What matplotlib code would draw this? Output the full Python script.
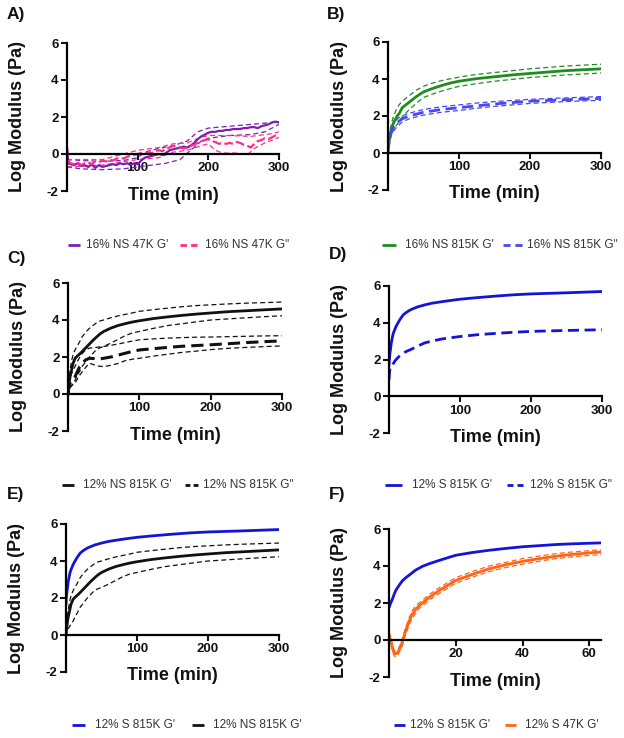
import matplotlib
matplotlib.use("Agg")
import matplotlib.pyplot as plt
from matplotlib.lines import Line2D

plt.rcParams['font.family'] = ['Liberation Sans', 'DejaVu Sans']
plt.rcParams['axes.unicode_minus'] = False

# ---------------- DATA ----------------
# Panel A : 16% NS 47K
A_t = [0, 2] + list(range(5, 301, 5))
A_Gp = [0.3, -0.5, -0.55, -0.6, -0.5, -0.65, -0.6, -0.7, -0.55, -0.75, -0.6, -0.7,
        -0.65, -0.6, -0.55, -0.6, -0.5, -0.55, -0.5, -0.6, -0.5, -0.55,
        -0.35, -0.2, -0.15, -0.1, -0.05, 0.0, -0.05, 0.05, 0.2, 0.25, 0.3, 0.35,
        0.4, 0.35, 0.45, 0.6, 0.8, 0.95, 1.05, 1.15, 1.2, 1.2, 1.25, 1.25, 1.3,
        1.3, 1.35, 1.35, 1.35, 1.4, 1.4, 1.45, 1.45, 1.4, 1.5, 1.55, 1.6, 1.7,
        1.75, 1.7]
A_Gpp = [0.35, -0.4, -0.5, -0.55, -0.45, -0.6, -0.5, -0.45, -0.55, -0.4, -0.45,
         -0.35, -0.4, -0.3, -0.35, -0.25, -0.2, -0.25, -0.15, -0.1, -0.05, 0.0,
         0.05, 0.0, 0.1, 0.05, 0.15, 0.2, 0.15, 0.3, 0.35, 0.45, 0.4, 0.35, 0.3,
         0.35, 0.45, 0.5, 0.6, 0.7, 0.75, 0.8, 0.7, 0.65, 0.55, 0.6, 0.55, 0.6,
         0.55, 0.65, 0.6, 0.5, 0.45, 0.35, 0.55, 0.7, 0.75, 0.85, 0.8, 0.9, 1.0,
         1.05]
A_Gp_hi_t = [0, 20, 50, 80, 100, 110, 130, 150, 170, 185, 200, 230, 260, 290, 300]
A_Gp_hi = [-0.3, -0.35, -0.4, -0.35, -0.2, 0.1, 0.3, 0.45, 0.7, 1.2, 1.4, 1.5, 1.6, 1.7, 1.75]
A_Gp_lo_t = [0, 20, 50, 80, 100, 120, 140, 160, 175, 190, 200, 230, 260, 280, 300]
A_Gp_lo = [-0.7, -0.8, -0.85, -0.8, -0.7, -0.6, -0.5, -0.3, 0.2, 0.7, 0.85, 1.0, 1.05, 1.2, 1.6]
A_Gpp_hi_t = [0, 50, 100, 130, 150, 170, 190, 200, 230, 260, 290, 300]
A_Gpp_hi = [-0.3, -0.3, 0.2, 0.35, 0.55, 0.6, 0.9, 1.0, 1.0, 0.95, 1.1, 1.2]
A_Gpp_lo_t = [0, 50, 100, 130, 150, 170, 190, 200, 210, 220, 240, 255, 265, 280, 300]
A_Gpp_lo = [-0.7, -0.6, -0.3, -0.2, 0.1, 0.2, 0.45, 0.55, 0.2, 0.05, 0.05, -0.05, 0.3, 0.6, 0.9]

# Panel B : 16% NS 815K
B_t = [0, 1, 2, 3, 5, 7, 10, 13, 16, 20, 25, 30, 35, 40, 45, 50, 60, 70, 80, 90,
       100, 125, 150, 175, 200, 250, 300]
B_Gp = [0.3, 0.55, 0.8, 1.0, 1.3, 1.55, 1.8, 2.0, 2.15, 2.45, 2.6, 2.75, 2.9, 3.05,
        3.18, 3.3, 3.45, 3.58, 3.7, 3.8, 3.88, 4.02, 4.12, 4.22, 4.3, 4.45, 4.55]
B_Gp_hi = [0.4, 0.7, 1.0, 1.25, 1.6, 1.9, 2.2, 2.45, 2.62, 2.8, 2.95, 3.1, 3.25, 3.4,
           3.5, 3.6, 3.75, 3.86, 3.95, 4.03, 4.1, 4.25, 4.35, 4.45, 4.55, 4.7, 4.8]
B_Gp_lo = [0.2, 0.4, 0.6, 0.75, 1.0, 1.2, 1.4, 1.55, 1.7, 1.95, 2.15, 2.35, 2.52, 2.7,
           2.85, 3.0, 3.15, 3.28, 3.4, 3.5, 3.6, 3.75, 3.88, 3.98, 4.08, 4.22, 4.32]
B_Gpp_t = [0, 1, 2, 3, 5, 7, 10, 15, 20, 30, 40, 50, 75, 100, 125, 150, 200, 250, 300]
B_Gpp = [0.0, 0.4, 0.7, 0.9, 1.2, 1.35, 1.5, 1.7, 1.85, 2.0, 2.1, 2.2, 2.35, 2.45,
         2.55, 2.65, 2.8, 2.88, 2.95]
B_Gpp_hi = [0.1, 0.6, 0.9, 1.1, 1.4, 1.55, 1.7, 1.9, 2.0, 2.15, 2.25, 2.35, 2.5, 2.6,
            2.7, 2.78, 2.9, 2.98, 3.05]
B_Gpp_lo = [-0.1, 0.2, 0.5, 0.7, 1.0, 1.15, 1.3, 1.5, 1.68, 1.85, 1.95, 2.05, 2.2, 2.3,
            2.42, 2.52, 2.68, 2.78, 2.85]

# Panel C / E : 12% NS 815K
C_t = [0, 1, 2, 3, 5, 7, 10, 13, 16, 20, 25, 30, 35, 40, 45, 50, 60, 70, 80, 90,
       100, 120, 140, 160, 180, 200, 225, 250, 275, 300]
C_Gp = [0.0, 0.4, 0.7, 0.95, 1.3, 1.65, 1.93, 2.05, 2.15, 2.3, 2.5, 2.7, 2.9, 3.08,
        3.25, 3.38, 3.56, 3.7, 3.8, 3.89, 3.96, 4.08, 4.17, 4.25, 4.32, 4.38, 4.45,
        4.5, 4.55, 4.6]
C_Gp_hi = [0.1, 0.6, 1.0, 1.3, 1.8, 2.1, 2.4, 2.6, 2.8, 3.1, 3.35, 3.55, 3.7, 3.85,
           3.95, 4.0, 4.12, 4.22, 4.3, 4.38, 4.47, 4.56, 4.64, 4.72, 4.78, 4.82, 4.87,
           4.91, 4.94, 4.97]
C_Gp_lo = [-0.1, 0.1, 0.25, 0.35, 0.45, 0.6, 0.75, 1.0, 1.2, 1.5, 1.75, 2.0, 2.2, 2.4,
           2.5, 2.57, 2.75, 2.95, 3.15, 3.3, 3.38, 3.55, 3.7, 3.8, 3.9, 4.0, 4.06,
           4.12, 4.18, 4.23]
C_Gpp = [0.0, 0.3, 0.5, 0.6, 0.75, 0.85, 0.94, 1.2, 1.45, 1.66, 1.85, 1.93, 1.92, 1.9,
         1.9, 1.93, 2.0, 2.1, 2.2, 2.3, 2.38, 2.45, 2.52, 2.58, 2.62, 2.66, 2.72,
         2.78, 2.83, 2.87]
C_Gpp_hi = [0.1, 0.45, 0.7, 0.9, 1.1, 1.3, 1.5, 1.75, 1.95, 2.2, 2.38, 2.48, 2.5, 2.52,
            2.55, 2.57, 2.63, 2.7, 2.78, 2.86, 2.93, 2.98, 3.02, 3.05, 3.07, 3.08,
            3.1, 3.12, 3.14, 3.15]
C_Gpp_lo = [-0.1, 0.15, 0.3, 0.35, 0.45, 0.5, 0.6, 0.8, 1.0, 1.2, 1.45, 1.66, 1.6,
            1.52, 1.5, 1.48, 1.55, 1.65, 1.8, 1.88, 1.93, 2.05, 2.15, 2.25, 2.32, 2.4,
            2.47, 2.52, 2.56, 2.6]

# Panel D / E : 12% S 815K
D_t = [0, 0.5, 1, 1.5, 2, 3, 4, 5, 6, 8, 10, 12, 15, 20, 25, 30, 40, 50, 60, 75,
       90, 100, 125, 150, 175, 200, 250, 300]
D_Gp = [1.7, 2.0, 2.2, 2.4, 2.5, 2.85, 3.05, 3.25, 3.42, 3.62, 3.8, 3.95, 4.15, 4.43,
        4.58, 4.7, 4.86, 4.97, 5.06, 5.15, 5.23, 5.28, 5.37, 5.45, 5.52, 5.57, 5.63,
        5.7]
D_Gpp = [0.9, 1.15, 1.4, 1.55, 1.6, 1.6, 1.65, 1.7, 1.77, 1.9, 2.0, 2.08, 2.2, 2.35,
         2.45, 2.53, 2.72, 2.9, 3.0, 3.12, 3.2, 3.25, 3.35, 3.42, 3.48, 3.53, 3.58,
         3.62]

# Panel F : 12% S 815K G' vs 12% S 47K G' (first 63.5 min)
F_t1 = [0, 0.5, 1, 1.5, 2, 3, 4, 5, 6, 8, 10, 12, 15, 18, 20, 25, 30, 35, 40, 45,
        50, 55, 63.5]
F_S815 = [1.76, 2.0, 2.2, 2.45, 2.67, 2.95, 3.2, 3.36, 3.5, 3.78, 3.98, 4.12, 4.3,
          4.47, 4.58, 4.73, 4.85, 4.95, 5.04, 5.1, 5.16, 5.2, 5.25]
F_t2 = [0, 0.5, 1, 1.5, 2, 2.5, 3, 3.5, 4, 4.5, 5, 5.5, 6, 7, 8, 9, 10, 12, 15, 18,
        20, 25, 30, 35, 40, 45, 50, 55, 63.5]
F_S47 = [0.3, 0.0, -0.4, -0.7, -0.75, -0.7, -0.55, -0.35, -0.1, 0.2, 0.5, 0.75, 1.0,
         1.4, 1.65, 1.85, 2.0, 2.3, 2.67, 3.0, 3.22, 3.55, 3.85, 4.07, 4.25, 4.4,
         4.53, 4.63, 4.76]
F_S47_hi = [0.45, 0.15, -0.25, -0.55, -0.6, -0.55, -0.4, -0.2, 0.1, 0.4, 0.7, 0.95,
            1.2, 1.6, 1.85, 2.0, 2.15, 2.45, 2.82, 3.15, 3.37, 3.7, 4.0, 4.2, 4.4,
            4.54, 4.67, 4.76, 4.88]
F_S47_lo = [0.15, -0.15, -0.55, -0.85, -0.9, -0.85, -0.7, -0.5, -0.3, 0.0, 0.3, 0.55,
            0.8, 1.2, 1.45, 1.7, 1.85, 2.15, 2.52, 2.85, 3.07, 3.4, 3.7, 3.92, 4.1,
            4.26, 4.4, 4.5, 4.62]

Y_TICKS = [-2, 0, 2, 4, 6]
X_TICKS_LONG = [100, 200, 300]
X_TICKS_SHORT = [20, 40, 60]

# ---------------- COLOURS ----------------
PURPLE = '#7a1fb0'
PINK = '#ff2d8a'
GREEN = '#1e8c1e'
LBLUE = '#4848f0'
BLUE = '#1414d8'
BLACK = '#111111'
ORANGE = '#ff6418'

W, H = 624, 738
fig = plt.figure(figsize=(W / 100, H / 100), dpi=100)


def make_ax(left, top, right, bottom, xmax, xticks, label, label_xy):
    ax = fig.add_axes([left / W, 1 - bottom / H, (right - left) / W, (bottom - top) / H])
    ax.set_xlim(0, xmax)
    ax.set_ylim(-2, 6)
    for s in ('top', 'right'):
        ax.spines[s].set_visible(False)
    ax.spines['bottom'].set_position(('data', 0))
    ax.spines['bottom'].set_linewidth(1.6)
    ax.spines['left'].set_linewidth(1.6)
    ax.set_yticks(Y_TICKS)
    ax.set_xticks(xticks)
    ax.tick_params(axis='both', direction='out', length=4, width=1.5,
                   labelsize=9.5, pad=2, colors='#111111')
    for t in ax.get_xticklabels() + ax.get_yticklabels():
        t.set_fontweight('bold')
    ax.patch.set_alpha(0)
    ax.text(0.5, -4.0 / (bottom - top), 'Time (min)', transform=ax.transAxes,
            ha='center', va='center', fontsize=13, fontweight='bold', color='#111111')
    ax.text(-49.0 / (right - left), 0.5, 'Log Modulus (Pa)', transform=ax.transAxes,
            ha='center', va='center', rotation=90, fontsize=13, fontweight='bold',
            color='#111111')
    fig.text(label_xy[0] / W, 1 - label_xy[1] / H, label, ha='left', va='center',
             fontsize=12.5, fontweight='bold', color='#111111')
    return ax


def legend_row(y, items):
    lw = 2.0
    px_per_unit = lw * 100 / 72.0
    for (x0, x1, xt, text, color, ls) in items:
        yy = 1 - y / H
        line = Line2D([x0 / W, x1 / W], [yy, yy], transform=fig.transFigure,
                      color=color, lw=lw, solid_capstyle='butt', dash_capstyle='butt')
        if ls == '--':
            L = x1 - x0
            line.set_dashes((0.375 * L / px_per_unit, 0.25 * L / px_per_unit))
        fig.add_artist(line)
        fig.text(xt / W, yy, text, ha='left', va='center', fontsize=8.5, color='#333333')


thin = dict(lw=0.9, ls=(0, (4, 2.5)))

# ---- A ----
axA = make_ax(67, 43, 279, 191, 300, X_TICKS_LONG, 'A)', (7, 15))
axA.plot(A_Gp_hi_t, A_Gp_hi, color=PURPLE, **thin)
axA.plot(A_Gp_lo_t, A_Gp_lo, color=PURPLE, **thin)
axA.plot(A_Gpp_hi_t, A_Gpp_hi, color=PINK, **thin)
axA.plot(A_Gpp_lo_t, A_Gpp_lo, color=PINK, **thin)
axA.plot(A_t, A_Gp, color=PURPLE, lw=1.6)
axA.plot(A_t, A_Gpp, color=PINK, lw=1.6, ls=(0, (4, 1.5)))
legend_row(245, [(68, 80, 86, "16% NS 47K G'", PURPLE, '-'),
                 (180, 197, 205, '16% NS 47K G"', PINK, '--')])

# ---- B ----
axB = make_ax(388, 42, 601, 190, 300, X_TICKS_LONG, 'B)', (327, 15))
axB.plot(B_t, B_Gp_hi, color=GREEN, **thin)
axB.plot(B_t, B_Gp_lo, color=GREEN, **thin)
axB.plot(B_Gpp_t, B_Gpp_hi, color=LBLUE, **thin)
axB.plot(B_Gpp_t, B_Gpp_lo, color=LBLUE, **thin)
axB.plot(B_t, B_Gp, color=GREEN, lw=2.0)
axB.plot(B_Gpp_t, B_Gpp, color=LBLUE, lw=2.0, ls=(0, (4, 2)))
legend_row(245, [(382, 396, 405, "16% NS 815K G'", GREEN, '-'),
                 (503, 522, 527, '16% NS 815K G"', LBLUE, '--')])

# ---- C ----
axC = make_ax(68, 283, 282, 431, 300, X_TICKS_LONG, 'C)', (7, 258))
axC.plot(C_t, C_Gp_hi, color=BLACK, **thin)
axC.plot(C_t, C_Gp_lo, color=BLACK, **thin)
axC.plot(C_t, C_Gpp_hi, color=BLACK, **thin)
axC.plot(C_t, C_Gpp_lo, color=BLACK, **thin)
axC.plot(C_t, C_Gp, color=BLACK, lw=2.0)
axC.plot(C_t, C_Gpp, color=BLACK, lw=2.2, ls=(0, (4, 2)))
legend_row(485, [(62, 74, 83, "12% NS 815K G'", BLACK, '-'),
                 (185, 198, 203, '12% NS 815K G"', BLACK, '--')])

# ---- D ----
axD = make_ax(389, 286, 602, 433, 300, X_TICKS_LONG, 'D)', (329, 255))
axD.plot(D_t, D_Gp, color=BLUE, lw=2.0)
axD.plot(D_t, D_Gpp, color=BLUE, lw=2.0, ls=(0, (4, 2)))
legend_row(485, [(385, 402, 412, "12% S 815K G'", BLUE, '-'),
                 (507, 523, 530, '12% S 815K G"', BLUE, '--')])

# ---- E ----
axE = make_ax(66, 524, 279, 672, 300, X_TICKS_LONG, 'E)', (7, 495))
axE.plot(C_t, C_Gp_hi, color=BLACK, **thin)
axE.plot(C_t, C_Gp_lo, color=BLACK, **thin)
axE.plot(D_t, D_Gp, color=BLUE, lw=2.0)
axE.plot(C_t, C_Gp, color=BLACK, lw=2.0)
legend_row(725, [(72, 85, 95, "12% S 815K G'", BLUE, '-'),
                 (192, 204, 213, "12% NS 815K G'", BLACK, '-')])

# ---- F ----
axF = make_ax(389, 529, 601, 677, 63.5, X_TICKS_SHORT, 'F)', (329, 495))
axF.plot(F_t2, F_S47_hi, color=ORANGE, **thin)
axF.plot(F_t2, F_S47_lo, color=ORANGE, **thin)
axF.plot(F_t1, F_S815, color=BLUE, lw=2.0)
axF.plot(F_t2, F_S47, color=ORANGE, lw=2.0)
legend_row(725, [(394, 405, 410, "12% S 815K G'", BLUE, '-'),
                 (505, 516, 525, "12% S 47K G'", ORANGE, '-')])

fig.savefig('out.png', dpi=100)
